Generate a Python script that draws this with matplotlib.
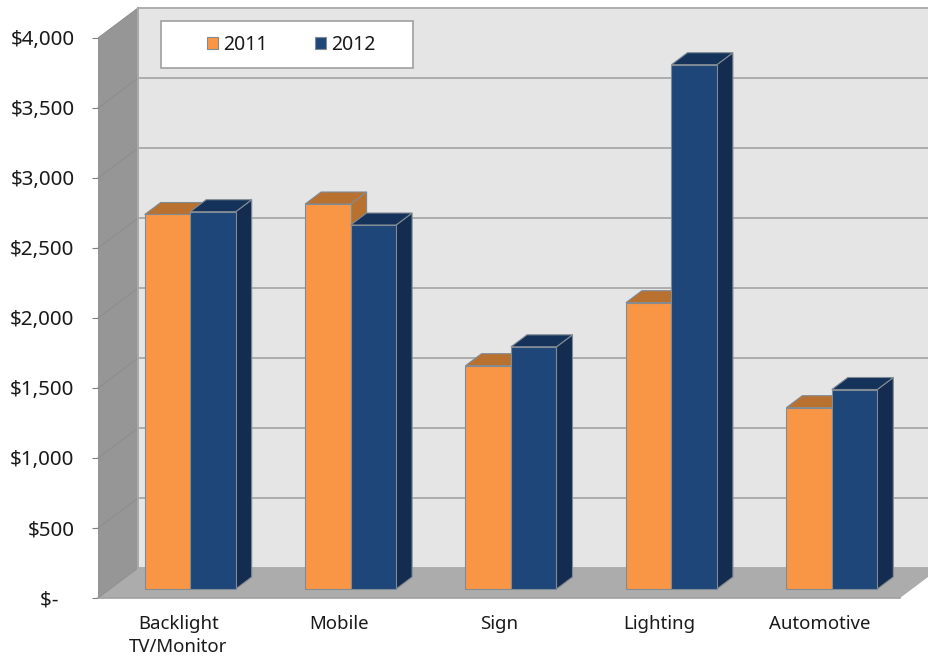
import matplotlib
matplotlib.use('Agg')
import matplotlib.pyplot as plt
from matplotlib.patches import Polygon, Rectangle

categories = ['Backlight\nTV/Monitor', 'Mobile', 'Sign', 'Lighting', 'Automotive']
values_2011 = [2675, 2750, 1595, 2045, 1295]
values_2012 = [2695, 2600, 1730, 3745, 1425]
yticks = [0, 500, 1000, 1500, 2000, 2500, 3000, 3500, 4000]
ytick_labels = ['$-   ', '$500', '$1,000', '$1,500', '$2,000', '$2,500', '$3,000', '$3,500', '$4,000']

W, H = 929, 661
plt.rcParams['font.family'] = ['Noto Sans', 'DejaVu Sans']
fig = plt.figure(figsize=(W / 100, H / 100), dpi=100)
ax = fig.add_axes([98 / W, 1 - 598 / H, 802 / W, 560 / H])
ax.set_xlim(-0.5, 4.5)
ax.set_ylim(0, 4000)

# one pixel in data units
PX = 5 / 802
PY = 4000 / 560
WALL_X, WALL_Y = 40 * PX, 30 * PY      # depth of the box
SHIFT_X, SHIFT_Y = 12 * PX, 9 * PY     # bars sit a bit inside the box
DEPTH_X, DEPTH_Y = 16 * PX, 12 * PY    # depth of a bar
BAR_W = 45.5 * PX
EDGE = '#808b94'


def poly(pts, color, z, edge='none'):
    ax.add_patch(Polygon(pts, closed=True, facecolor=color, edgecolor=edge,
                         linewidth=0.8, zorder=z, clip_on=False))


x0, x1 = -0.5, 4.5
# walls and floor
poly([(x0 + WALL_X, WALL_Y), (x1 + WALL_X, WALL_Y), (x1 + WALL_X, 4000 + WALL_Y), (x0 + WALL_X, 4000 + WALL_Y)], '#e5e5e5', 1)
poly([(x0, 0), (x0 + WALL_X, WALL_Y), (x0 + WALL_X, 4000 + WALL_Y), (x0, 4000)], '#969696', 1)
poly([(x0, 0), (x1, 0), (x1 + WALL_X, WALL_Y), (x0 + WALL_X, WALL_Y)], '#acacac', 1)

for t in yticks:
    ax.plot([x0 + WALL_X, x1 + WALL_X], [t + WALL_Y, t + WALL_Y], color='#adadad', lw=1.4, zorder=2, clip_on=False)
    ax.plot([x0, x0 + WALL_X], [t, t + WALL_Y], color='#8c8c8c', lw=0.7, zorder=2, clip_on=False)
ax.plot([x0 + WALL_X, x0 + WALL_X], [WALL_Y, 4000 + WALL_Y], color='#aaaaaa', lw=1.4, zorder=2, clip_on=False)
ax.plot([x0, x1], [0, 0], color='#a0a0a0', lw=1.2, zorder=2, clip_on=False)


def bars_3d(offset, values, front, top, side, z, label):
    xs = [i + offset + SHIFT_X for i in range(len(values))]
    for x, v in zip(xs, values):
        # side face
        poly([(x + BAR_W, SHIFT_Y), (x + BAR_W + DEPTH_X, SHIFT_Y + DEPTH_Y),
              (x + BAR_W + DEPTH_X, SHIFT_Y + v + DEPTH_Y), (x + BAR_W, SHIFT_Y + v)], side, z, EDGE)
        # top face
        poly([(x, SHIFT_Y + v), (x + BAR_W, SHIFT_Y + v),
              (x + BAR_W + DEPTH_X, SHIFT_Y + v + DEPTH_Y), (x + DEPTH_X, SHIFT_Y + v + DEPTH_Y)], top, z, EDGE)
    return ax.bar(xs, values, width=BAR_W, bottom=SHIFT_Y, align='edge', color=front,
                  edgecolor=EDGE, linewidth=0.8, zorder=z + 0.1, label=label, clip_on=False)


b1 = bars_3d(-BAR_W, values_2011, '#f99645', '#b8712f', '#b8712f', 3, '2011')
b2 = bars_3d(0, values_2012, '#1e4678', '#15325a', '#132c50', 4, '2012')

ax.set_xticks(range(len(categories)))
ax.set_xticklabels(categories, fontsize=13.4, color='#1a1a1a', linespacing=1.35)
ax.set_yticks(yticks)
ax.set_yticklabels(ytick_labels, fontsize=14.8, color='#1a1a1a')
ax.tick_params(axis='x', length=0, pad=12)
ax.tick_params(axis='y', length=4.5, width=0.8, color='#808080', pad=12.5)
ax.patch.set_visible(False)
for s in ax.spines.values():
    s.set_visible(False)

# legend box
ax.add_patch(Rectangle((161 / W, 1 - 68 / H), 252 / W, 47 / H, transform=fig.transFigure,
                       facecolor='white', edgecolor='#a0a0a0', linewidth=1.2, zorder=5, clip_on=False))
leg = ax.legend(handles=[b1, b2], ncol=2, frameon=False, fontsize=14,
                loc='center left', bbox_to_anchor=(207 / W, 1 - 44.5 / H), bbox_transform=fig.transFigure,
                handlelength=0.58, handleheight=0.58, handletextpad=0.25, columnspacing=2.42,
                borderpad=0, borderaxespad=0, labelcolor='#1a1a1a')
leg.set_zorder(6)
fig.savefig('out.png', dpi=100)
